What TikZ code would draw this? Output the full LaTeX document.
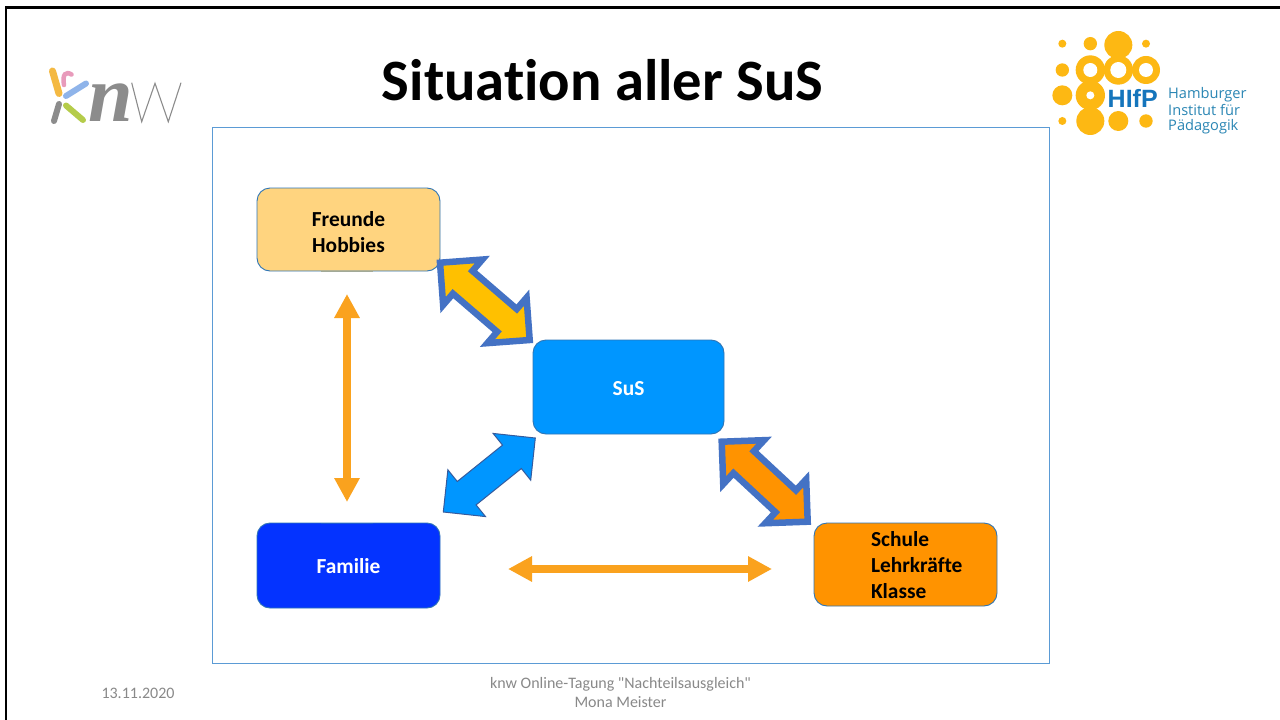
\documentclass[tikz,border=0pt]{standalone}
\usepackage{fontspec}
\setmainfont[RawFeature=-liga]{Carlito}
\newfontfamily\plainfont[RawFeature=-liga]{Carlito}
\newfontfamily\logoserif{Liberation Serif}
\newfontfamily\logosans{Liberation Sans}
\newfontfamily\logotext{Open Sans}
\usetikzlibrary{calc,arrows.meta}
\definecolor{frameblue}{HTML}{5B9BD5}
\definecolor{boxline}{HTML}{2E75B6}
\definecolor{freundefill}{HTML}{FFD47F}
\definecolor{familiefill}{HTML}{0433FF}
\definecolor{susfill}{HTML}{0096FF}
\definecolor{schulefill}{HTML}{FF9300}
\definecolor{arrowborder}{HTML}{4472C4}
\definecolor{goldfill}{HTML}{FFC000}
\definecolor{thinorange}{HTML}{FAA21E}
\definecolor{footgray}{HTML}{898989}
\definecolor{hifpgold}{HTML}{FDB813}
\definecolor{hifpblue}{HTML}{1575BC}
\definecolor{hifptext}{HTML}{2A86B4}
\definecolor{knwgray}{HTML}{8C8C8C}
\definecolor{knwyellow}{HTML}{F4B942}
\definecolor{knwpink}{HTML}{E89BBB}
\definecolor{knwblue}{HTML}{8FB4EA}
\definecolor{knwgreen}{HTML}{B5CC4A}
\tikzset{
  box/.style={rounded corners=13pt,draw=boxline,line width=0.9pt,inner sep=0pt,
    font=\fontsize{21.4}{25.7}\selectfont\bfseries,align=center},
  fatborder/.style={line width=6.5pt,draw=arrowborder,miter limit=10,line join=miter},
  fatthin/.style={line width=1pt,draw=arrowborder!80!black,fill=susfill,line join=miter},
  thinarrow/.style={line width=8.5pt,draw=thinorange,
    {Triangle[length=24pt,width=24pt,fill=thinorange]}-{Triangle[length=24pt,width=24pt,fill=thinorange]}},
  foot/.style={text=footgray,font=\plainfont\fontsize{16}{19}\selectfont,align=center,inner sep=0pt},
  logostroke/.style={line cap=round,line width=6pt},
  hifpline/.style={text=hifptext,font=\logotext\fontsize{14.6}{15.7}\selectfont,anchor=west,inner sep=0pt}
}
\newcommand{\fatarrow}[3]{%
  \draw[#3] (#1)
    -- ($(#1)!30pt!(#2)!30pt!90:(#2)$)
    -- ($(#1)!30pt!(#2)!15pt!90:(#2)$)
    -- ($(#2)!30pt!(#1)!15pt!-90:(#1)$)
    -- ($(#2)!30pt!(#1)!30pt!-90:(#1)$)
    -- (#2)
    -- ($(#2)!30pt!(#1)!30pt!90:(#1)$)
    -- ($(#2)!30pt!(#1)!15pt!90:(#1)$)
    -- ($(#1)!30pt!(#2)!15pt!-90:(#2)$)
    -- ($(#1)!30pt!(#2)!30pt!-90:(#2)$)
    -- cycle;}
\begin{document}
\begin{tikzpicture}[x=1pt,y=-1pt]
\useasboundingbox (0,0) rectangle (1280,720);
\fill[white] (0,0) rectangle (1280,720);
% slide frame
\draw[black,line width=2.6pt] (6,720) -- (6,7.2) -- (1280,7.2);
% title
\node[inner sep=0pt,font=\fontsize{58.6}{60}\selectfont\bfseries] (title) at (602.5,80) {Situation aller SuS};
% content frame
\draw[frameblue,line width=1pt] (212,127.5) rectangle (1049,663);
% boxes
\node[box,fill=freundefill,minimum width=183pt,minimum height=83pt] (freunde) at (348.5,229.5) {\rule{0pt}{20.5pt}Freunde\\Hobbies};
\node[box,fill=familiefill,text=white,minimum width=183pt,minimum height=85pt] (familie) at (348.5,565.5) {\rule{0pt}{17pt}Familie};
\node[box,fill=susfill,text=white,minimum width=191pt,minimum height=94pt] (sus) at (628.5,387) {\rule{0pt}{17.5pt}SuS};
\node[box,fill=schulefill,minimum width=183pt,minimum height=83pt,text width=183pt,align=left] (schule) at (905.5,564.5)
  {\rule{0pt}{16.5pt}\hspace*{57pt}Schule\\\hspace*{57pt}Lehrkräfte\\\hspace*{57pt}Klasse};
% faint edge sections
\draw[line width=1pt,draw=boxline!45!freundefill] (321,271) -- (373,271);
\draw[line width=1pt,draw=boxline!60!familiefill] (321,523) -- (373,523);
% connector end points
\coordinate (fA) at (440,262.7);
\coordinate (sA) at (529.7,340);
\coordinate (sB) at (721.7,441.7);
\coordinate (cB) at (807.7,521.7);
\coordinate (sC) at (535.3,438);
\coordinate (mC) at (443.3,512);
\coordinate (fD) at (347,294);
\coordinate (mD) at (347,502);
\coordinate (mE) at (508,569);
\coordinate (cE) at (772,569);
% connectors
\fatarrow{fA}{sA}{fatborder,fill=goldfill}
\fatarrow{sB}{cB}{fatborder,fill=schulefill}
\fatarrow{sC}{mC}{fatthin}
\draw[thinarrow] (fD) -- (mD);
\draw[thinarrow] (mE) -- (cE);
% footer
\node[foot] (datum) at (138,693) {13.11.2020};
\node[foot] (tagung) at (620.5,692.5) {knw Online-Tagung "Nachteilsausgleich"\\Mona Meister};
% knw logo
\draw[logostroke,line width=7pt,color=knwyellow] (52.5,71) -- (59,93.5);
\draw[logostroke,line width=4.5pt,color=knwpink] (71.5,74.5) .. controls (66,71) and (62,74) .. (64,85);
\draw[logostroke,color=knwblue] (66,96) -- (86,83.5);
\draw[logostroke,color=knwgray] (59,104) -- (54,121);
\draw[logostroke,color=knwgreen] (66,105.5) -- (83,120);
\node[text=knwgray,font=\logoserif\itshape\bfseries\fontsize{80}{80}\selectfont,inner sep=0pt,anchor=base] (knwn) at (111,121) {n};
\draw[knwgray,line width=1.1pt] (131.7,82.7) -- (141.7,121.7) -- (155,83.3) -- (168.3,121.7) -- (181,82.7);
% HIfP logo
\begin{scope}[shift={(1040,20)},x=0.3333pt,y=-0.3333pt]
  \fill[hifpgold] (67,71) circle[radius=12];
  \fill[hifpgold] (151,71) circle[radius=20];
  \fill[hifpgold] (235,75) circle[radius=42];
  \fill[hifpgold] (318,71) circle[radius=12];
  \fill[hifpgold] (67,150) circle[radius=20];
  \fill[hifpgold] (151,150) circle[radius=44];
  \fill[hifpgold] (235,150) circle[radius=44];
  \fill[hifpgold] (318,150) circle[radius=42];
  \fill[hifpgold] (67,226) circle[radius=30];
  \fill[hifpgold] (151,226) circle[radius=44];
  \fill[hifpgold] (67,303) circle[radius=12];
  \fill[hifpgold] (151,303) circle[radius=42];
  \fill[hifpgold] (235,303) circle[radius=30];
  \fill[hifpgold] (318,303) circle[radius=20];
  \fill[white] (151,150) circle[radius=21];
  \fill[white] (235,150) circle[radius=24];
  \fill[white] (318,150) circle[radius=21];
  \fill[white] (151,226) circle[radius=12];
\end{scope}
\node[text=hifpblue,font=\logosans\bfseries\fontsize{25}{25}\selectfont,inner sep=0pt,anchor=base west] (hifp) at (1107.5,107) {HIfP};
\node[hifpline] (hh) at (1168,94.5) {Hamburger};
\node[hifpline] (inst) at (1168,110) {Institut für};
\node[hifpline] (paed) at (1168,126.5) {Pädagogik};
\end{tikzpicture}
\end{document}
